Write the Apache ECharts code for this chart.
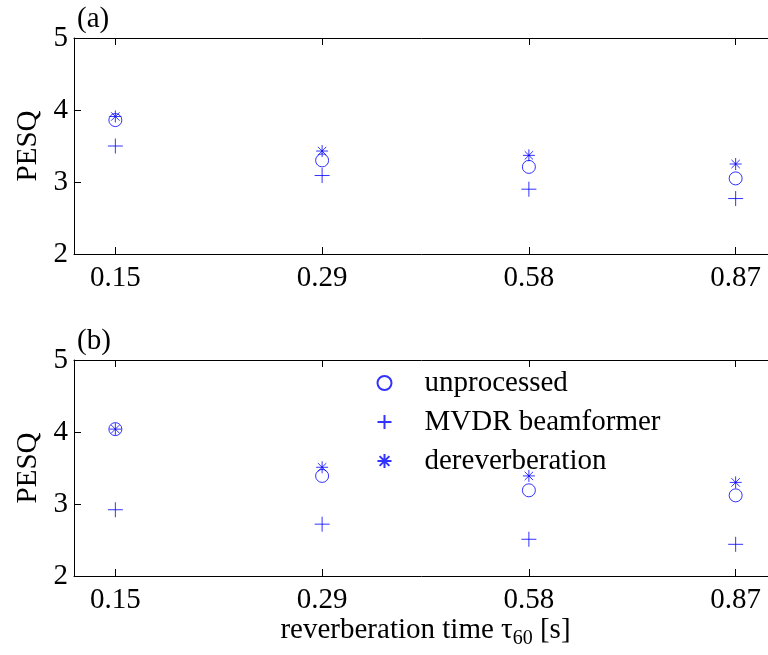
<!doctype html>
<html>
<head>
<meta charset="utf-8">
<title>PESQ vs reverberation time</title>
<script src="https://cdn.jsdelivr.net/npm/echarts@6/dist/echarts.min.js"></script>
<style>
html,body{margin:0;padding:0;background:#fff;overflow:hidden;}
#chart{width:768px;height:655px;}
</style>
</head>
<body>
<div id="chart"></div>
<script type="text/javascript">
// x positions are the index of each reverberation time (evenly spaced in the figure)
var tauLabels = ['0.15', '0.29', '0.58', '0.87'];
var seriesNames = ['unprocessed', 'MVDR beamformer', 'dereverberation'];

// panel (a)
var aUnprocessed = [3.86, 3.30, 3.21, 3.05];
var aMvdr = [3.50, 3.09, 2.90, 2.77];
var aDerev = [3.91, 3.43, 3.37, 3.25];

// panel (b)
var bUnprocessed = [4.04, 3.39, 3.19, 3.12];
var bMvdr = [2.92, 2.72, 2.51, 2.44];
var bDerev = [4.04, 3.51, 3.39, 3.30];

var FONT = '"Liberation Serif", "Times New Roman", serif';
var BLUE = '#0000ff';
var plusPath = 'path://M0,5L10,5M5,0L5,10';
var starPath = 'path://M5,0L5,10M0,5L10,5M1.5,1.5L8.5,8.5M8.5,1.5L1.5,8.5';

function toPoints(vals){
	var out = [];
	for (var i = 0; i < vals.length; i++) {
		out.push([i + 1, vals[i]]);
	}
	return out;
}

function scatter(name, idx, vals, symbol, size){
	return {
		name: name,
		type: 'scatter',
		xAxisIndex: idx * 2,
		yAxisIndex: idx,
		symbol: symbol,
		symbolSize: size,
		itemStyle: {color: 'none', borderColor: BLUE, borderWidth: 1},
		emphasis: {disabled: true},
		data: toPoints(vals)
	};
}

// the figure is cut on the right, so the axes run past the edge of the page
function bottomAxis(gridIdx, withName){
	var ax = {
		type: 'value',
		gridIndex: gridIdx,
		min: 0.8,
		max: 4.2,
		position: 'bottom',
		axisLine: {show: true, onZero: false, lineStyle: {color: '#000'}},
		axisTick: {show: true, inside: true, length: 7, customValues: [1, 2, 3, 4], lineStyle: {color: '#000'}},
		axisLabel: {
			customValues: [1, 2, 3, 4],
			margin: 10,
			color: '#000',
			fontFamily: FONT,
			fontSize: 29,
			formatter: function(v){ return tauLabels[Math.round(v) - 1]; }
		},
		splitLine: {show: false}
	};
	if (withName) {
		ax.name = '{m|reverberation time \u03c4}{s|60}{m| [s]}';
		ax.nameLocation = 'middle';
		ax.nameGap = 36;
		ax.nameTextStyle = {
			color: '#000',
			rich: {
				m: {fontFamily: FONT, fontSize: 29, color: '#000'},
				s: {fontFamily: FONT, fontSize: 20, color: '#000', padding: [16, 0, 0, 0]}
			}
		};
	}
	return ax;
}

function topAxis(gridIdx){
	return {
		type: 'value',
		gridIndex: gridIdx,
		min: 0.8,
		max: 4.2,
		position: 'top',
		axisLine: {show: true, onZero: false, lineStyle: {color: '#000'}},
		axisTick: {show: true, inside: true, length: 7, customValues: [1, 2, 3, 4], lineStyle: {color: '#000'}},
		axisLabel: {show: false},
		splitLine: {show: false}
	};
}

function leftAxis(gridIdx){
	return {
		type: 'value',
		gridIndex: gridIdx,
		min: 2,
		max: 5,
		interval: 1,
		name: 'PESQ',
		nameLocation: 'middle',
		nameRotate: 90,
		nameGap: 30,
		nameTextStyle: {color: '#000', fontFamily: FONT, fontSize: 29},
		axisLine: {show: true, onZero: false, lineStyle: {color: '#000'}},
		axisTick: {show: true, inside: true, length: 7, lineStyle: {color: '#000'}},
		axisLabel: {margin: 6, color: '#000', fontFamily: FONT, fontSize: 29},
		splitLine: {show: false}
	};
}

var option = {
	backgroundColor: '#fff',
	animation: false,
	title: [
		{text: '(a)', left: 72, top: 0, textStyle: {fontFamily: FONT, fontSize: 29, fontWeight: 'normal', color: '#000'}},
		{text: '(b)', left: 72, top: 322, textStyle: {fontFamily: FONT, fontSize: 29, fontWeight: 'normal', color: '#000'}}
	],
	legend: {
		data: seriesNames,
		orient: 'vertical',
		left: 370,
		top: 363,
		itemWidth: 14,
		itemHeight: 14,
		itemGap: 9,
		selectedMode: false,
		textStyle: {fontFamily: FONT, fontSize: 29, color: '#000', lineHeight: 30, padding: [0, 0, 0, 28]}
	},
	grid: [
		{left: 74, top: 38, width: 703, height: 216, outerBoundsMode: 'none'},
		{left: 74, top: 360, width: 703, height: 216, outerBoundsMode: 'none'}
	],
	xAxis: [bottomAxis(0, false), topAxis(0), bottomAxis(1, true), topAxis(1)],
	yAxis: [leftAxis(0), leftAxis(1)],
	series: [
		scatter(seriesNames[0], 0, aUnprocessed, 'circle', 13),
		scatter(seriesNames[1], 0, aMvdr, plusPath, 15),
		scatter(seriesNames[2], 0, aDerev, starPath, 12),
		scatter(seriesNames[0], 1, bUnprocessed, 'circle', 13),
		scatter(seriesNames[1], 1, bMvdr, plusPath, 15),
		scatter(seriesNames[2], 1, bDerev, starPath, 12)
	]
};

echarts.init(document.getElementById('chart')).setOption(option);
</script>
</body>
</html>
